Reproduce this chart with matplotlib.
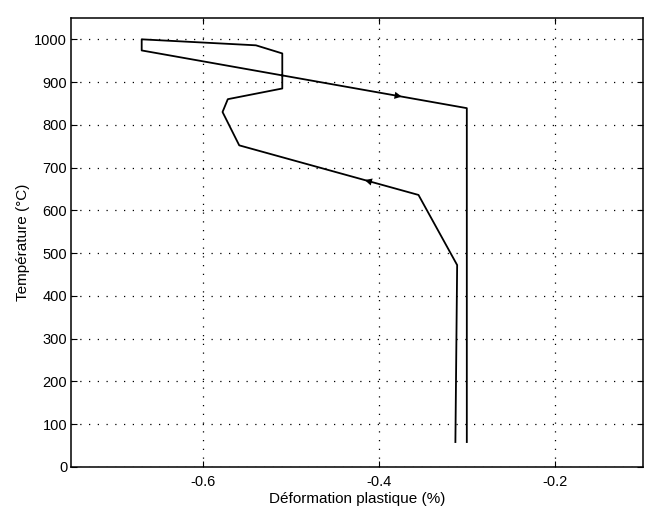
import matplotlib
matplotlib.use("Agg")
import matplotlib.pyplot as plt
import numpy as np

plt.rcParams['font.family'] = ['Liberation Sans', 'DejaVu Sans']

# plastic strain (%) vs temperature (°C), one thermal cycle
deformation = [-0.313, -0.311, -0.355, -0.559, -0.578, -0.572, -0.51, -0.51,
               -0.54, -0.67, -0.67, -0.30, -0.30]
temperature = [58, 472, 636, 752, 830, 860, 885, 967, 986, 1000, 974, 839, 58]

# arrows: (segment index, fraction along segment)
arrow_marks = [(2, 0.29), (10, 0.79)]

x_ticks = [-0.6, -0.4, -0.2]
y_ticks = list(range(0, 1001, 100))

fig = plt.figure(figsize=(6.55, 5.13), dpi=100)
ax = fig.add_axes([0.109, 0.09, 0.872, 0.875])

ax.plot(deformation, temperature, color='black', lw=1.3)

for i, f in arrow_marks:
    x0, y0 = deformation[i], temperature[i]
    x1, y1 = deformation[i + 1], temperature[i + 1]
    xm, ym = x0 + f * (x1 - x0), y0 + f * (y1 - y0)
    ax.annotate('', xy=(xm + 0.01 * (x1 - x0), ym + 0.01 * (y1 - y0)),
                xytext=(xm, ym),
                arrowprops=dict(arrowstyle='-|>', color='black', lw=0,
                                mutation_scale=13, shrinkA=0, shrinkB=0))

ax.set_xlim(-0.75, -0.1)
ax.set_ylim(0, 1050)
ax.set_xticks(x_ticks)
ax.set_xticklabels(['-0.6', '-0.4', '-0.2'])
ax.set_yticks(y_ticks)
ax.grid(True, color='black', linestyle=(0, (1, 6)), linewidth=0.9)
ax.tick_params(direction='in', top=True, right=True, length=4, labelsize=10.5,
               color='black')
ax.tick_params(axis='x', pad=6)
ax.tick_params(axis='y', pad=3)
for s in ax.spines.values():
    s.set_linewidth(1.1)

ax.set_xlabel('Déformation plastique (%)', fontsize=11, labelpad=2)
ax.set_ylabel('Température (°C)', fontsize=11, labelpad=3)

fig.savefig('out.png', dpi=100)
